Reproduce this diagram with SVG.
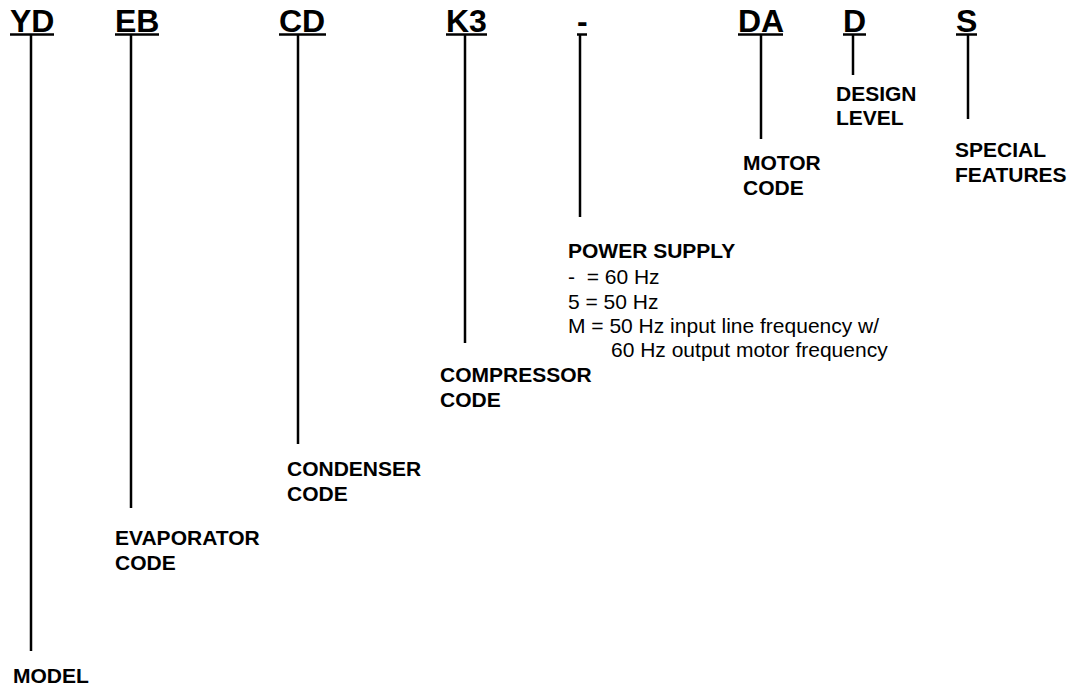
<svg xmlns="http://www.w3.org/2000/svg" width="1068" height="687" viewBox="0 0 1068 687">
<style>
.h{font-family:"Liberation Sans",Arial,sans-serif;font-weight:bold;font-size:32px;fill:#000}
.l{font-family:"Liberation Sans",Arial,sans-serif;font-weight:bold;font-size:21px;fill:#000}
.n{font-family:"Liberation Sans",Arial,sans-serif;font-size:21px;fill:#000}
.u{stroke:#000;stroke-width:2.5}
.c{stroke:#000;stroke-width:2.5;fill:none}
</style>
<rect width="1068" height="687" fill="#fff"/>
<g id="model">
<text class="h" x="10" y="32">YD</text>
<line class="u" x1="10" y1="34.5" x2="54" y2="34.5"/>
<text class="l" x="13" y="683">MODEL</text>
</g>
<g id="evaporator">
<text class="h" x="115" y="32">EB</text>
<line class="u" x1="115" y1="34.5" x2="159" y2="34.5"/>
<text class="l" x="115" y="545">EVAPORATOR</text>
<text class="l" x="115" y="570">CODE</text>
</g>
<g id="condenser">
<text class="h" x="279" y="32">CD</text>
<line class="u" x1="279" y1="34.5" x2="326" y2="34.5"/>
<text class="l" x="287" y="476">CONDENSER</text>
<text class="l" x="287" y="501">CODE</text>
</g>
<g id="compressor">
<text class="h" x="446" y="32">K3</text>
<line class="u" x1="446" y1="34.5" x2="487" y2="34.5"/>
<text class="l" x="440" y="382">COMPRESSOR</text>
<text class="l" x="440" y="407">CODE</text>
</g>
<g id="power">
<text class="h" x="577" y="32">-</text>
<line class="u" x1="577" y1="34.5" x2="587" y2="34.5"/>
<text class="l" x="568" y="258">POWER SUPPLY</text>
<text class="n" x="568" y="284" xml:space="preserve">-  = 60 Hz</text>
<text class="n" x="568" y="309">5 = 50 Hz</text>
<text class="n" x="568" y="333">M = 50 Hz input line frequency w/</text>
<text class="n" x="611" y="357">60 Hz output motor frequency</text>
</g>
<g id="motor">
<text class="h" x="738" y="32">DA</text>
<line class="u" x1="738" y1="34.5" x2="783" y2="34.5"/>
<text class="l" x="743" y="170">MOTOR</text>
<text class="l" x="743" y="195">CODE</text>
</g>
<g id="design">
<text class="h" x="843" y="32">D</text>
<line class="u" x1="843" y1="34.5" x2="866" y2="34.5"/>
<text class="l" x="836" y="101">DESIGN</text>
<text class="l" x="836" y="125">LEVEL</text>
</g>
<g id="special">
<text class="h" x="956" y="32">S</text>
<line class="u" x1="956" y1="34.5" x2="977" y2="34.5"/>
<text class="l" x="955" y="157">SPECIAL</text>
<text class="l" x="955" y="182">FEATURES</text>
</g>
<g id="connectors">
<line class="c" x1="31" y1="35" x2="31" y2="651"/>
<line class="c" x1="131" y1="35" x2="131" y2="508"/>
<line class="c" x1="298" y1="35" x2="298" y2="444"/>
<line class="c" x1="465" y1="35" x2="465" y2="343"/>
<line class="c" x1="580" y1="35" x2="580" y2="217"/>
<line class="c" x1="761" y1="35" x2="761" y2="139"/>
<line class="c" x1="853" y1="35" x2="853" y2="75"/>
<line class="c" x1="968" y1="35" x2="968" y2="119"/>
</g>
</svg>
